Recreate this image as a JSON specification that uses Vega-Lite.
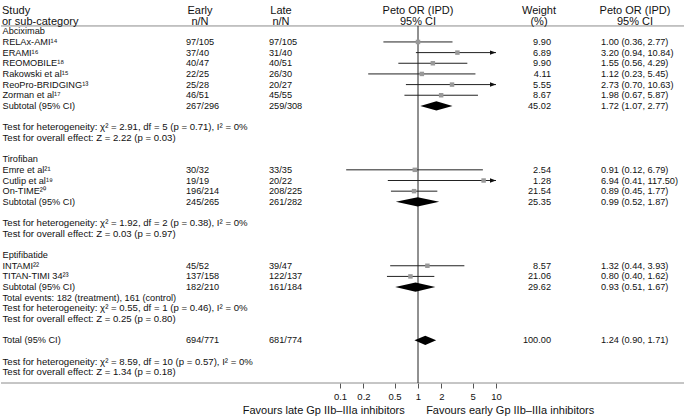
{
 "$schema": "https://vega.github.io/schema/vega-lite/v6.json",
 "padding": 0,
 "background": "white",
 "spacing": 0,
 "bounds": "flush",
 "config": {"font": "Liberation Sans", "view": {"stroke": null}, "text": {"fontSize": 9.2, "color": "#111"}},
 "datasets": {
  "one": [{"k": 1}],
  "rows": [
   {"r": 0, "kind": "group", "label": "Abciximab"},
   {"r": 1, "kind": "study", "label": "\u00a0RELAx-AMI¹⁴", "early": "97/105", "late": "97/105", "weight": "9.90", "ci": "1.00 (0.36, 2.77)", "est": 1.00, "lo": 0.36, "hi": 2.77},
   {"r": 2, "kind": "study", "label": "\u00a0ERAMI¹⁶", "early": "37/40", "late": "31/40", "weight": "6.89", "ci": "3.20 (0.94, 10.84)", "est": 3.20, "lo": 0.94, "hi": 10.84},
   {"r": 3, "kind": "study", "label": "\u00a0REOMOBILE¹⁸", "early": "40/47", "late": "40/51", "weight": "9.90", "ci": "1.55 (0.56, 4.29)", "est": 1.55, "lo": 0.56, "hi": 4.29},
   {"r": 4, "kind": "study", "label": "\u00a0Rakowski et al¹⁵", "early": "22/25", "late": "26/30", "weight": "4.11", "ci": "1.12 (0.23, 5.45)", "est": 1.12, "lo": 0.23, "hi": 5.45},
   {"r": 5, "kind": "study", "label": "\u00a0ReoPro-BRIDGING¹³", "early": "25/28", "late": "20/27", "weight": "5.55", "ci": "2.73 (0.70, 10.63)", "est": 2.73, "lo": 0.70, "hi": 10.63},
   {"r": 6, "kind": "study", "label": "\u00a0Zorman et al¹⁷", "early": "46/51", "late": "45/55", "weight": "8.67", "ci": "1.98 (0.67, 5.87)", "est": 1.98, "lo": 0.67, "hi": 5.87},
   {"r": 7, "kind": "sub", "label": "Subtotal (95% CI)", "early": "267/296", "late": "259/308", "weight": "45.02", "ci": "1.72 (1.07, 2.77)", "est": 1.72, "lo": 1.07, "hi": 2.77},
   {"r": 9, "kind": "test", "label": "Test for heterogeneity: χ² = 2.91, df = 5 (p = 0.71), I² = 0%"},
   {"r": 10, "kind": "test", "label": "Test for overall effect: Z = 2.22 (p = 0.03)"},
   {"r": 12, "kind": "group", "label": "Tirofiban"},
   {"r": 13, "kind": "study", "label": "\u00a0Emre et al²¹", "early": "30/32", "late": "33/35", "weight": "2.54", "ci": "0.91 (0.12, 6.79)", "est": 0.91, "lo": 0.12, "hi": 6.79},
   {"r": 14, "kind": "study", "label": "\u00a0Cutlip et al¹⁹", "early": "19/19", "late": "20/22", "weight": "1.28", "ci": "6.94 (0.41, 117.50)", "est": 6.94, "lo": 0.41, "hi": 117.5},
   {"r": 15, "kind": "study", "label": "\u00a0On-TIME²⁰", "early": "196/214", "late": "208/225", "weight": "21.54", "ci": "0.89 (0.45, 1.77)", "est": 0.89, "lo": 0.45, "hi": 1.77},
   {"r": 16, "kind": "sub", "label": "Subtotal (95% CI)", "early": "245/265", "late": "261/282", "weight": "25.35", "ci": "0.99 (0.52, 1.87)", "est": 0.99, "lo": 0.52, "hi": 1.87},
   {"r": 18, "kind": "test", "label": "Test for heterogeneity: χ² = 1.92, df = 2 (p = 0.38), I² = 0%"},
   {"r": 19, "kind": "test", "label": "Test for overall effect: Z = 0.03 (p = 0.97)"},
   {"r": 21, "kind": "group", "label": "Eptifibatide"},
   {"r": 22, "kind": "study", "label": "\u00a0INTAMI²²", "early": "45/52", "late": "39/47", "weight": "8.57", "ci": "1.32 (0.44, 3.93)", "est": 1.32, "lo": 0.44, "hi": 3.93},
   {"r": 23, "kind": "study", "label": "\u00a0TITAN-TIMI 34²³", "early": "137/158", "late": "122/137", "weight": "21.06", "ci": "0.80 (0.40, 1.62)", "est": 0.80, "lo": 0.40, "hi": 1.62},
   {"r": 24, "kind": "sub", "label": "Subtotal (95% CI)", "early": "182/210", "late": "161/184", "weight": "29.62", "ci": "0.93 (0.51, 1.67)", "est": 0.93, "lo": 0.51, "hi": 1.67},
   {"r": 25, "kind": "note", "label": "Total events: 182 (treatment), 161 (control)"},
   {"r": 26, "kind": "test", "label": "Test for heterogeneity: χ² = 0.55, df = 1 (p = 0.46), I² = 0%"},
   {"r": 27, "kind": "test", "label": "Test for overall effect: Z = 0.25 (p = 0.80)"},
   {"r": 29, "kind": "sub", "label": "Total (95% CI)", "early": "694/771", "late": "681/774", "weight": "100.00", "ci": "1.24 (0.90, 1.71)", "est": 1.24, "lo": 0.90, "hi": 1.71},
   {"r": 31, "kind": "test", "label": "Test for heterogeneity: χ² = 8.59, df = 10 (p = 0.57), I² = 0%"},
   {"r": 32, "kind": "test", "label": "Test for overall effect: Z = 1.34 (p = 0.18)"}
  ]
 },
 "hconcat": [
  {"width": 185, "height": 383, "layer": [
   {"data": {"name": "one"}, "mark": {"type": "rule", "color": "#8c8c8c"}, "encoding": {"y": {"datum": -0.5, "type": "quantitative", "scale": {"domain": [-2.936, 33], "reverse": true, "nice": false, "zero": false}, "axis": null}}},
   {"data": {"name": "one"}, "mark": {"type": "rule", "color": "#8c8c8c"}, "encoding": {"y": {"datum": 33, "type": "quantitative", "scale": {"domain": [-2.936, 33], "reverse": true, "nice": false, "zero": false}, "axis": null}}},
   {"data": {"name": "rows"}, "transform": [{"filter": "datum.kind != 'test'"}], "mark": {"type": "text", "align": "left", "baseline": "middle", "dx": 1.5}, "encoding": {"x": {"datum": 0, "type": "quantitative", "scale": {"domain": [0, 1]}, "axis": null}, "y": {"field": "r", "type": "quantitative", "scale": {"domain": [-2.936, 33], "reverse": true, "nice": false, "zero": false}, "axis": null}, "text": {"field": "label"}}},
   {"data": {"name": "rows"}, "transform": [{"filter": "datum.kind == 'test'"}], "mark": {"type": "text", "align": "left", "baseline": "middle", "dx": 1.5, "fontSize": 9.6}, "encoding": {"x": {"datum": 0, "type": "quantitative", "scale": {"domain": [0, 1]}, "axis": null}, "y": {"field": "r", "type": "quantitative", "scale": {"domain": [-2.936, 33], "reverse": true, "nice": false, "zero": false}, "axis": null}, "text": {"field": "label"}}},
   {"data": {"values": [{"t": ["Study", "or sub-category"]}]}, "mark": {"type": "text", "align": "left", "baseline": "middle", "fontSize": 11, "lineHeight": 10.5, "dx": 1}, "encoding": {"x": {"datum": 0, "type": "quantitative", "scale": {"domain": [0, 1]}, "axis": null}, "y": {"datum": -1.9, "type": "quantitative", "scale": {"domain": [-2.936, 33], "reverse": true, "nice": false, "zero": false}, "axis": null}, "text": {"field": "t"}}}
  ]},
  {"width": 28, "height": 383, "layer": [
   {"data": {"name": "one"}, "mark": {"type": "rule", "color": "#8c8c8c"}, "encoding": {"y": {"datum": -0.5, "type": "quantitative", "scale": {"domain": [-2.936, 33], "reverse": true, "nice": false, "zero": false}, "axis": null}}},
   {"data": {"name": "one"}, "mark": {"type": "rule", "color": "#8c8c8c"}, "encoding": {"y": {"datum": 33, "type": "quantitative", "scale": {"domain": [-2.936, 33], "reverse": true, "nice": false, "zero": false}, "axis": null}}},
   {"data": {"name": "rows"}, "transform": [{"filter": "isValid(datum.early)"}], "mark": {"type": "text", "align": "left", "baseline": "middle"}, "encoding": {"x": {"datum": 0, "type": "quantitative", "scale": {"domain": [0, 1]}, "axis": null}, "y": {"field": "r", "type": "quantitative", "scale": {"domain": [-2.936, 33], "reverse": true, "nice": false, "zero": false}, "axis": null}, "text": {"field": "early"}}},
   {"data": {"values": [{"t": ["Early", "n/N"]}]}, "mark": {"type": "text", "align": "center", "baseline": "middle", "fontSize": 11, "lineHeight": 10.5}, "encoding": {"y": {"datum": -1.9, "type": "quantitative", "scale": {"domain": [-2.936, 33], "reverse": true, "nice": false, "zero": false}, "axis": null}, "text": {"field": "t"}}}
  ]},
  {"width": 55, "height": 383, "layer": [
   {"data": {"name": "one"}, "mark": {"type": "rule", "color": "#8c8c8c"}, "encoding": {"y": {"datum": -0.5, "type": "quantitative", "scale": {"domain": [-2.936, 33], "reverse": true, "nice": false, "zero": false}, "axis": null}}},
   {"data": {"name": "one"}, "mark": {"type": "rule", "color": "#8c8c8c"}, "encoding": {"y": {"datum": 33, "type": "quantitative", "scale": {"domain": [-2.936, 33], "reverse": true, "nice": false, "zero": false}, "axis": null}}}
  ]},
  {"width": 24, "height": 383, "layer": [
   {"data": {"name": "one"}, "mark": {"type": "rule", "color": "#8c8c8c"}, "encoding": {"y": {"datum": -0.5, "type": "quantitative", "scale": {"domain": [-2.936, 33], "reverse": true, "nice": false, "zero": false}, "axis": null}}},
   {"data": {"name": "one"}, "mark": {"type": "rule", "color": "#8c8c8c"}, "encoding": {"y": {"datum": 33, "type": "quantitative", "scale": {"domain": [-2.936, 33], "reverse": true, "nice": false, "zero": false}, "axis": null}}},
   {"data": {"name": "rows"}, "transform": [{"filter": "isValid(datum.late)"}], "mark": {"type": "text", "align": "left", "baseline": "middle"}, "encoding": {"x": {"datum": 0, "type": "quantitative", "scale": {"domain": [0, 1]}, "axis": null}, "y": {"field": "r", "type": "quantitative", "scale": {"domain": [-2.936, 33], "reverse": true, "nice": false, "zero": false}, "axis": null}, "text": {"field": "late"}}},
   {"data": {"values": [{"t": ["Late", "n/N"]}]}, "mark": {"type": "text", "align": "center", "baseline": "middle", "fontSize": 11, "lineHeight": 10.5}, "encoding": {"y": {"datum": -1.9, "type": "quantitative", "scale": {"domain": [-2.936, 33], "reverse": true, "nice": false, "zero": false}, "axis": null}, "text": {"field": "t"}}}
  ]},
  {"width": 47, "height": 383, "layer": [
   {"data": {"name": "one"}, "mark": {"type": "rule", "color": "#8c8c8c"}, "encoding": {"y": {"datum": -0.5, "type": "quantitative", "scale": {"domain": [-2.936, 33], "reverse": true, "nice": false, "zero": false}, "axis": null}}},
   {"data": {"name": "one"}, "mark": {"type": "rule", "color": "#8c8c8c"}, "encoding": {"y": {"datum": 33, "type": "quantitative", "scale": {"domain": [-2.936, 33], "reverse": true, "nice": false, "zero": false}, "axis": null}}}
  ]},
  {"width": 156, "height": 383, "layer": [
   {"data": {"name": "one"}, "mark": {"type": "rule", "color": "#8c8c8c"}, "encoding": {"y": {"datum": -0.5, "type": "quantitative", "scale": {"domain": [-2.936, 33], "reverse": true, "nice": false, "zero": false}, "axis": null}}},
   {"data": {"name": "one"}, "mark": {"type": "rule", "color": "#8c8c8c"}, "encoding": {"y": {"datum": 33, "type": "quantitative", "scale": {"domain": [-2.936, 33], "reverse": true, "nice": false, "zero": false}, "axis": null}}},
   {"data": {"name": "one"}, "mark": {"type": "rule", "color": "#222"}, "encoding": {
     "x": {"datum": 1, "type": "quantitative", "scale": {"type": "log", "domain": [0.1, 10], "nice": false}, "axis": {"values": [0.1, 0.2, 0.5, 1, 2, 5, 10], "format": "~g", "domain": false, "grid": false, "tickSize": 5, "tickColor": "#555", "labelFontSize": 9.5, "labelColor": "#111", "labelPadding": 3, "labelFlush": false, "labelOverlap": false, "title": "Favours late Gp IIb–IIIa inhibitors\u00a0\u00a0\u00a0\u00a0\u00a0\u00a0\u00a0Favours early Gp IIb–IIIa inhibitors", "titleFontSize": 11, "titleFontWeight": "normal", "titleColor": "#111", "titlePadding": 4}},
     "y": {"datum": -0.5, "type": "quantitative", "scale": {"domain": [-2.936, 33], "reverse": true, "nice": false, "zero": false}, "axis": null},
     "y2": {"datum": 33}}},
   {"data": {"name": "rows"}, "transform": [{"filter": "datum.kind == 'study'"}], "mark": {"type": "rule", "color": "#222", "clip": true}, "encoding": {
     "x": {"field": "lo", "type": "quantitative", "scale": {"type": "log", "domain": [0.1, 10], "nice": false}, "axis": {"values": [0.1, 0.2, 0.5, 1, 2, 5, 10], "format": "~g", "domain": false, "grid": false, "tickSize": 5, "tickColor": "#555", "labelFontSize": 9.5, "labelColor": "#111", "labelPadding": 3, "labelFlush": false, "labelOverlap": false, "title": "Favours late Gp IIb–IIIa inhibitors\u00a0\u00a0\u00a0\u00a0\u00a0\u00a0\u00a0Favours early Gp IIb–IIIa inhibitors", "titleFontSize": 11, "titleFontWeight": "normal", "titleColor": "#111", "titlePadding": 4}},
     "x2": {"field": "hi"},
     "y": {"field": "r", "type": "quantitative", "scale": {"domain": [-2.936, 33], "reverse": true, "nice": false, "zero": false}, "axis": null}}},
   {"data": {"name": "rows"}, "transform": [{"filter": "datum.kind == 'study'"}], "mark": {"type": "point", "shape": "square", "filled": true, "color": "#999", "size": 20, "opacity": 1}, "encoding": {
     "x": {"field": "est", "type": "quantitative", "scale": {"type": "log", "domain": [0.1, 10], "nice": false}, "axis": {"values": [0.1, 0.2, 0.5, 1, 2, 5, 10], "format": "~g", "domain": false, "grid": false, "tickSize": 5, "tickColor": "#555", "labelFontSize": 9.5, "labelColor": "#111", "labelPadding": 3, "labelFlush": false, "labelOverlap": false, "title": "Favours late Gp IIb–IIIa inhibitors\u00a0\u00a0\u00a0\u00a0\u00a0\u00a0\u00a0Favours early Gp IIb–IIIa inhibitors", "titleFontSize": 11, "titleFontWeight": "normal", "titleColor": "#111", "titlePadding": 4}},
     "y": {"field": "r", "type": "quantitative", "scale": {"domain": [-2.936, 33], "reverse": true, "nice": false, "zero": false}, "axis": null}}},
   {"data": {"name": "rows"}, "transform": [{"filter": "datum.kind == 'study' && datum.hi > 10"}], "mark": {"type": "point", "shape": "M-1,-0.37L0,0L-1,0.37Z", "filled": true, "color": "#111", "size": 144, "opacity": 1}, "encoding": {
     "x": {"datum": 10, "type": "quantitative", "scale": {"type": "log", "domain": [0.1, 10], "nice": false}, "axis": {"values": [0.1, 0.2, 0.5, 1, 2, 5, 10], "format": "~g", "domain": false, "grid": false, "tickSize": 5, "tickColor": "#555", "labelFontSize": 9.5, "labelColor": "#111", "labelPadding": 3, "labelFlush": false, "labelOverlap": false, "title": "Favours late Gp IIb–IIIa inhibitors\u00a0\u00a0\u00a0\u00a0\u00a0\u00a0\u00a0Favours early Gp IIb–IIIa inhibitors", "titleFontSize": 11, "titleFontWeight": "normal", "titleColor": "#111", "titlePadding": 4}},
     "y": {"field": "r", "type": "quantitative", "scale": {"domain": [-2.936, 33], "reverse": true, "nice": false, "zero": false}, "axis": null}}},
   {"data": {"name": "rows"}, "transform": [{"filter": "datum.kind == 'sub'"}, {"fold": ["lo", "est", "hi"], "as": ["k", "v"]}, {"calculate": "datum.k == 'est' ? 0.44 : 0", "as": "h"}, {"calculate": "datum.r - datum.h", "as": "top"}, {"calculate": "datum.r + datum.h", "as": "bot"}], "mark": {"type": "area", "orient": "vertical", "color": "#000", "opacity": 1}, "encoding": {
     "x": {"field": "v", "type": "quantitative", "scale": {"type": "log", "domain": [0.1, 10], "nice": false}, "axis": {"values": [0.1, 0.2, 0.5, 1, 2, 5, 10], "format": "~g", "domain": false, "grid": false, "tickSize": 5, "tickColor": "#555", "labelFontSize": 9.5, "labelColor": "#111", "labelPadding": 3, "labelFlush": false, "labelOverlap": false, "title": "Favours late Gp IIb–IIIa inhibitors\u00a0\u00a0\u00a0\u00a0\u00a0\u00a0\u00a0Favours early Gp IIb–IIIa inhibitors", "titleFontSize": 11, "titleFontWeight": "normal", "titleColor": "#111", "titlePadding": 4}},
     "y": {"field": "top", "type": "quantitative", "scale": {"domain": [-2.936, 33], "reverse": true, "nice": false, "zero": false}, "axis": null},
     "y2": {"field": "bot"},
     "detail": {"field": "r"}}},
   {"data": {"values": [{"t": ["Peto OR (IPD)", "95% CI"]}]}, "mark": {"type": "text", "align": "center", "baseline": "middle", "fontSize": 11, "lineHeight": 10.5}, "encoding": {"y": {"datum": -1.9, "type": "quantitative", "scale": {"domain": [-2.936, 33], "reverse": true, "nice": false, "zero": false}, "axis": null}, "text": {"field": "t"}}}
  ]},
  {"width": 31, "height": 383, "layer": [
   {"data": {"name": "one"}, "mark": {"type": "rule", "color": "#8c8c8c"}, "encoding": {"y": {"datum": -0.5, "type": "quantitative", "scale": {"domain": [-2.936, 33], "reverse": true, "nice": false, "zero": false}, "axis": null}}},
   {"data": {"name": "one"}, "mark": {"type": "rule", "color": "#8c8c8c"}, "encoding": {"y": {"datum": 33, "type": "quantitative", "scale": {"domain": [-2.936, 33], "reverse": true, "nice": false, "zero": false}, "axis": null}}}
  ]},
  {"width": 24, "height": 383, "layer": [
   {"data": {"name": "one"}, "mark": {"type": "rule", "color": "#8c8c8c"}, "encoding": {"y": {"datum": -0.5, "type": "quantitative", "scale": {"domain": [-2.936, 33], "reverse": true, "nice": false, "zero": false}, "axis": null}}},
   {"data": {"name": "one"}, "mark": {"type": "rule", "color": "#8c8c8c"}, "encoding": {"y": {"datum": 33, "type": "quantitative", "scale": {"domain": [-2.936, 33], "reverse": true, "nice": false, "zero": false}, "axis": null}}},
   {"data": {"name": "rows"}, "transform": [{"filter": "isValid(datum.weight)"}], "mark": {"type": "text", "align": "right", "baseline": "middle"}, "encoding": {"x": {"datum": 1, "type": "quantitative", "scale": {"domain": [0, 1]}, "axis": null}, "y": {"field": "r", "type": "quantitative", "scale": {"domain": [-2.936, 33], "reverse": true, "nice": false, "zero": false}, "axis": null}, "text": {"field": "weight"}}},
   {"data": {"values": [{"t": ["Weight", "(%)"]}]}, "mark": {"type": "text", "align": "center", "baseline": "middle", "fontSize": 11, "lineHeight": 10.5}, "encoding": {"y": {"datum": -1.9, "type": "quantitative", "scale": {"domain": [-2.936, 33], "reverse": true, "nice": false, "zero": false}, "axis": null}, "text": {"field": "t"}}}
  ]},
  {"width": 50, "height": 383, "layer": [
   {"data": {"name": "one"}, "mark": {"type": "rule", "color": "#8c8c8c"}, "encoding": {"y": {"datum": -0.5, "type": "quantitative", "scale": {"domain": [-2.936, 33], "reverse": true, "nice": false, "zero": false}, "axis": null}}},
   {"data": {"name": "one"}, "mark": {"type": "rule", "color": "#8c8c8c"}, "encoding": {"y": {"datum": 33, "type": "quantitative", "scale": {"domain": [-2.936, 33], "reverse": true, "nice": false, "zero": false}, "axis": null}}}
  ]},
  {"width": 68, "height": 383, "layer": [
   {"data": {"name": "one"}, "mark": {"type": "rule", "color": "#8c8c8c"}, "encoding": {"y": {"datum": -0.5, "type": "quantitative", "scale": {"domain": [-2.936, 33], "reverse": true, "nice": false, "zero": false}, "axis": null}}},
   {"data": {"name": "one"}, "mark": {"type": "rule", "color": "#8c8c8c"}, "encoding": {"y": {"datum": 33, "type": "quantitative", "scale": {"domain": [-2.936, 33], "reverse": true, "nice": false, "zero": false}, "axis": null}}},
   {"data": {"name": "rows"}, "transform": [{"filter": "isValid(datum.ci)"}], "mark": {"type": "text", "align": "left", "baseline": "middle"}, "encoding": {"x": {"datum": 0, "type": "quantitative", "scale": {"domain": [0, 1]}, "axis": null}, "y": {"field": "r", "type": "quantitative", "scale": {"domain": [-2.936, 33], "reverse": true, "nice": false, "zero": false}, "axis": null}, "text": {"field": "ci"}}},
   {"data": {"values": [{"t": ["Peto OR (IPD)", "95% CI"]}]}, "mark": {"type": "text", "align": "center", "baseline": "middle", "fontSize": 11, "lineHeight": 10.5}, "encoding": {"y": {"datum": -1.9, "type": "quantitative", "scale": {"domain": [-2.936, 33], "reverse": true, "nice": false, "zero": false}, "axis": null}, "text": {"field": "t"}}}
  ]},
  {"width": 16, "height": 383, "layer": [
   {"data": {"name": "one"}, "mark": {"type": "rule", "color": "#8c8c8c"}, "encoding": {"y": {"datum": -0.5, "type": "quantitative", "scale": {"domain": [-2.936, 33], "reverse": true, "nice": false, "zero": false}, "axis": null}}},
   {"data": {"name": "one"}, "mark": {"type": "rule", "color": "#8c8c8c"}, "encoding": {"y": {"datum": 33, "type": "quantitative", "scale": {"domain": [-2.936, 33], "reverse": true, "nice": false, "zero": false}, "axis": null}}}
  ]}
 ]
}
